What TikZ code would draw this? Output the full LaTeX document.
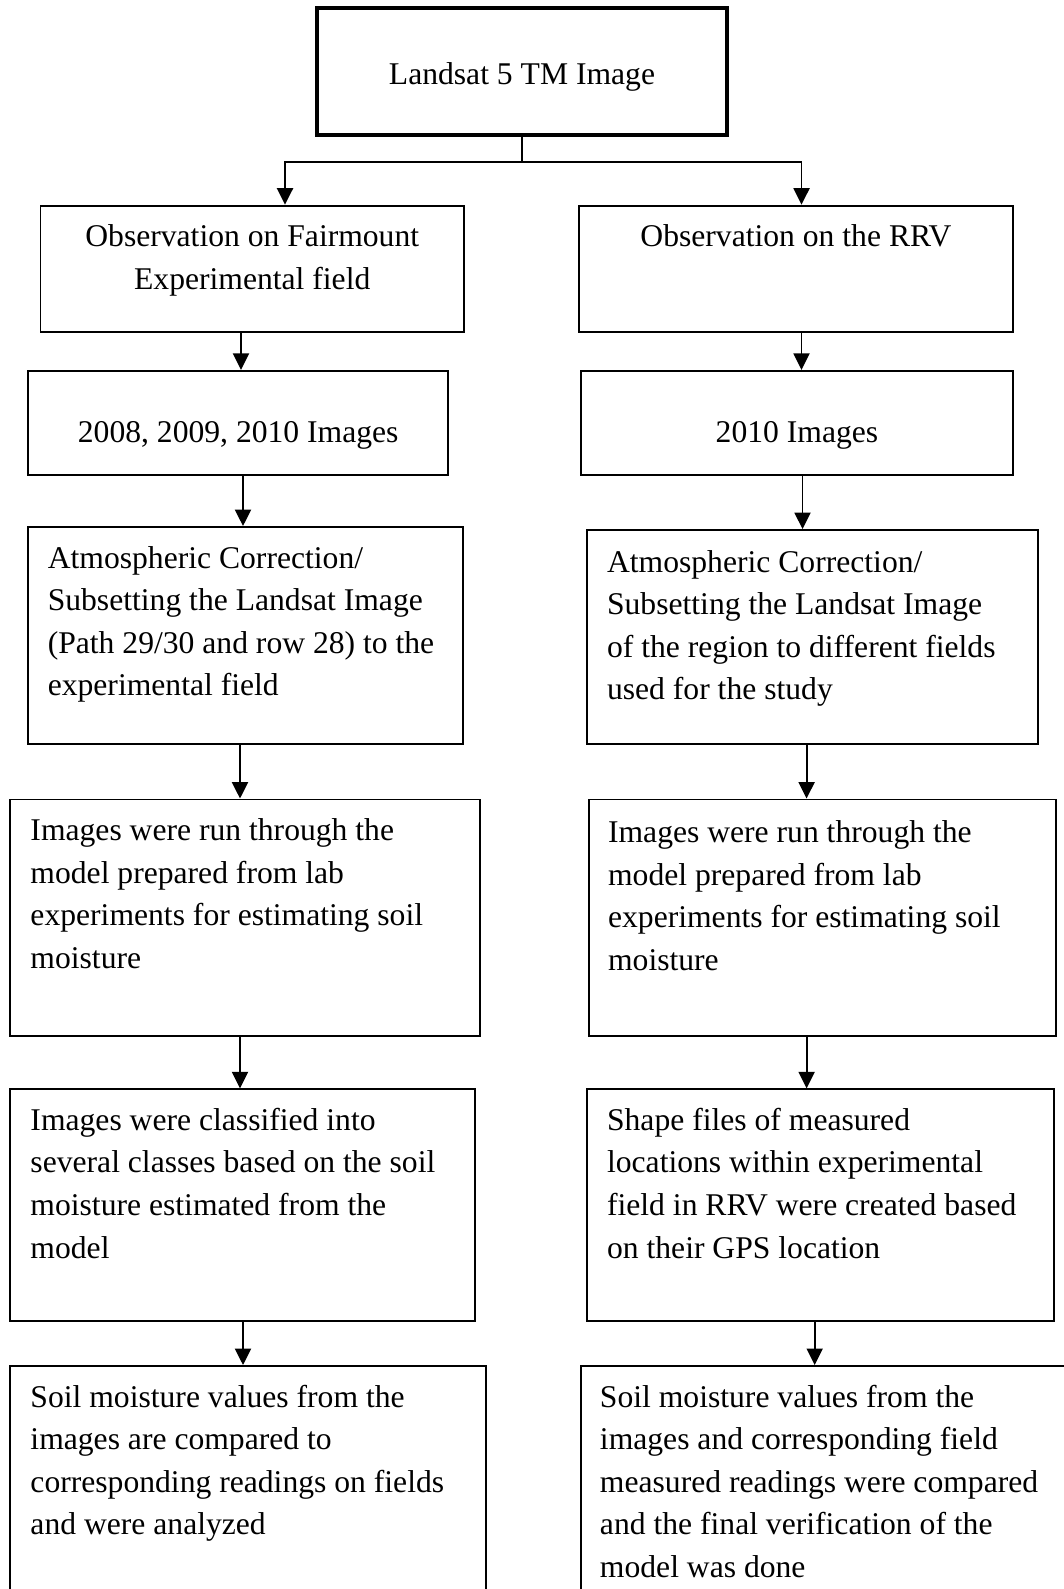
\documentclass[tikz,border=0pt]{standalone}
\usepackage{fontspec}
\setmainfont{Liberation Serif}
\usepackage{tikz}
\usetikzlibrary{calc}
\usetikzlibrary{fit}
\usetikzlibrary{arrows.meta}

\tikzset{
  box/.style={draw=black, line width=1.1pt, inner sep=0pt},
  topbox/.style={draw=black, line width=2.8pt, inner sep=0pt},
  txt/.style={inner sep=0pt, align=left, font=\fontsize{18}{24.25}\selectfont},
  ctxt/.style={inner sep=0pt, align=center, font=\fontsize{18}{24.25}\selectfont},
  arr/.style={line width=1.1pt, -{Triangle[length=0.33cm,width=0.32cm]}},
}

\begin{document}
\begin{tikzpicture}[x=0.02cm, y=-0.02cm]
        \useasboundingbox (0,0) rectangle (1064,1589);
        \clip (0,0) rectangle (1064,1589);

        % top
        \node[topbox, fit={(317,8) (727,135)}] (top) {};
        \node[ctxt] (topt) at ($(top.center)+(0,5)$) {Landsat 5 TM Image};
        \coordinate (split) at (top.south |- 0,162);

        % left column (text anchored at the baseline of its last line)
        \node[box, fit={(40.5,205.7) (464,332.4)}] (fb1) {};
        \node[box, fit={(28.4,370.9) (448,475.2)}] (fb2) {};
        \node[box, fit={(28.4,527) (463,743.8)}] (fb3) {};
        \node[box, fit={(10.1,799.5) (480.3,1035.6)}] (fb4) {};
        \node[box, fit={(10.1,1089.3) (475.2,1321.3)}] (fb5) {};
        \node[box, fit={(10.1,1366) (486.4,1640)}] (fb6) {};

        \node[ctxt, anchor=base] (fb1t) at ($(fb1.north)+(0,84.6)$) {Observation on Fairmount\\Experimental field};
        \node[ctxt, anchor=base] (fb2t) at ($(fb2.north)+(0,73)$) {2008, 2009, 2010 Images};
        \node[txt, anchor=base west] (fb3t) at ($(fb3.north west)+(20,169.8)$) {Atmospheric Correction/\\Subsetting the Landsat Image\\(Path 29/30 and row 28) to the\\experimental field};
        \node[txt, anchor=base west] (fb4t) at ($(fb4.north west)+(21,169.8)$) {Images were run through the\\model prepared from lab\\experiments for estimating soil\\moisture};
        \node[txt, anchor=base west] (fb5t) at ($(fb5.north west)+(21,169.8)$) {Images were classified into\\several classes based on the soil\\moisture estimated from the\\model};
        \node[txt, anchor=base west] (fb6t) at ($(fb6.north west)+(21,169.8)$) {Soil moisture values from the\\images are compared to\\corresponding readings on fields\\and were analyzed};

        % right column
        \node[box, fit={(578.6,205.7) (1013.3,332.4)}] (rb1) {};
        \node[box, fit={(580.6,370.9) (1013.3,475.2)}] (rb2) {};
        \node[box, fit={(586.7,530) (1037.6,743.8)}] (rb3) {};
        \node[box, fit={(588.7,799.5) (1055.9,1035.6)}] (rb4) {};
        \node[box, fit={(586.7,1089.3) (1053.8,1321.3)}] (rb5) {};
        \node[box, fit={(580.6,1366) (1100,1640)}] (rb6) {};

        \node[ctxt, anchor=base] (rb1t) at ($(rb1.north)+(0,42)$) {Observation on the RRV};
        \node[ctxt, anchor=base] (rb2t) at ($(rb2.north)+(0,73)$) {2010 Images};
        \node[txt, anchor=base west] (rb3t) at ($(rb3.north west)+(21,170.8)$) {Atmospheric Correction/\\Subsetting the Landsat Image\\of the region to different fields\\used for the study};
        \node[txt, anchor=base west] (rb4t) at ($(rb4.north west)+(20,171.8)$) {Images were run through the\\model prepared from lab\\experiments for estimating soil\\moisture};
        \node[txt, anchor=base west] (rb5t) at ($(rb5.north west)+(21,169.8)$) {Shape files of measured\\locations within experimental\\field in RRV were created based\\on their GPS location};
        \node[txt, anchor=base west] (rb6t) at ($(rb6.north west)+(20,212.4)$) {Soil moisture values from the\\images and corresponding field\\measured readings were compared\\and the final verification of the\\model was done};

        % arrows
        \draw[line width=1.1pt] (top.south) -- (split);
        \draw[arr] (split) -| (fb1.north -| 285,0);
        \draw[arr] (split) -| (rb1.north -| 801.5,0);

        \draw[arr] (fb1.south -| 241,0) -- (fb2.north -| 241,0);
        \draw[arr] (fb2.south -| 243,0) -- (fb3.north -| 243,0);
        \draw[arr] (fb3.south -| 240,0) -- (fb4.north -| 240,0);
        \draw[arr] (fb4.south -| 240,0) -- (fb5.north -| 240,0);
        \draw[arr] (fb5.south -| 243,0) -- (fb6.north -| 243,0);

        \draw[arr] (rb1.south -| 801.5,0) -- (rb2.north -| 801.5,0);
        \draw[arr] (rb2.south -| 802.5,0) -- (rb3.north -| 802.5,0);
        \draw[arr] (rb3.south -| 806.6,0) -- (rb4.north -| 806.6,0);
        \draw[arr] (rb4.south -| 806.6,0) -- (rb5.north -| 806.6,0);
        \draw[arr] (rb5.south -| 814.7,0) -- (rb6.north -| 814.7,0);

    \end{tikzpicture}
\end{document}
